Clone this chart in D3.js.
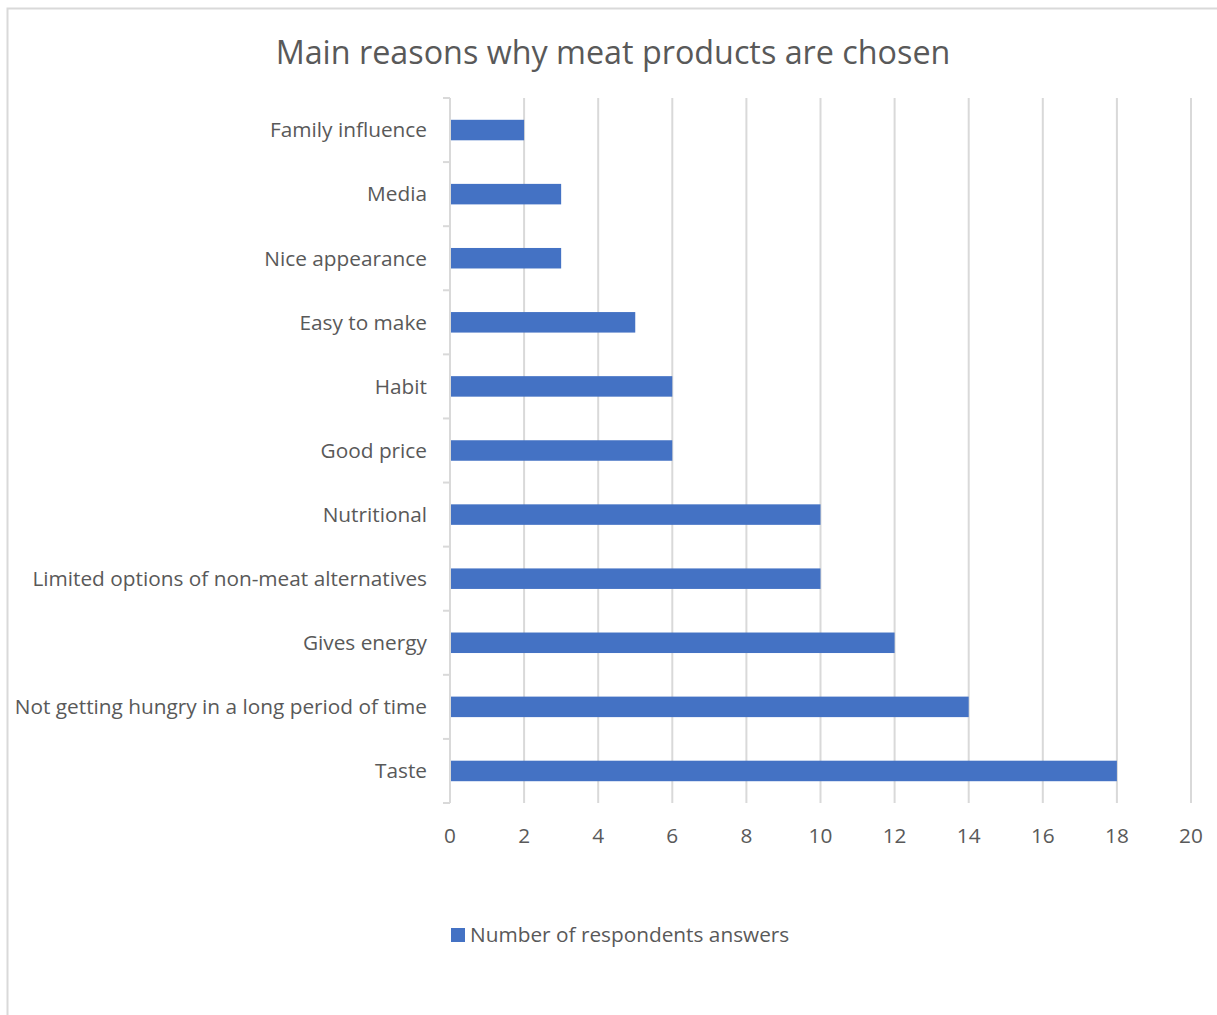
<!DOCTYPE html>
<html>
<head>
<meta charset="utf-8">
<script src="https://cdn.jsdelivr.net/npm/d3@7"></script>
<style>
  html, body { margin: 0; padding: 0; background: #ffffff; }
  svg { display: block; }
  text { font-family: "Open Sans", Lato, sans-serif; fill: #595959; }
</style>
</head>
<body>
<svg id="chart" width="1217" height="1015"></svg>
<script>
// Survey answers, listed top to bottom as drawn
const categories = [
  "Family influence",
  "Media",
  "Nice appearance",
  "Easy to make",
  "Habit",
  "Good price",
  "Nutritional",
  "Limited options of non-meat alternatives",
  "Gives energy",
  "Not getting hungry in a long period of time",
  "Taste"
];
const answers = [2, 3, 3, 5, 6, 6, 10, 10, 12, 14, 18];
const xTicks = [0, 2, 4, 6, 8, 10, 12, 14, 16, 18, 20];
const seriesName = "Number of respondents answers";
const chartTitle = "Main reasons why meat products are chosen";

const svg = d3.select("#chart");
const barColor = "#4472c4";
const gridColor = "#d9d9d9";
const labelSize = "20.8px";

// Outer chart frame
svg.append("rect")
  .attr("x", 7.5).attr("y", 8.5)
  .attr("width", 1240).attr("height", 1040)
  .attr("fill", "none").attr("stroke", gridColor).attr("stroke-width", 2);

const plot = { left: 450, right: 1191, top: 98, bottom: 803 };

const x = d3.scaleLinear().domain([0, 20]).range([plot.left, plot.right]);
const y = d3.scaleBand().domain(categories).range([plot.top, plot.bottom]).paddingInner(0.68).paddingOuter(0.34);
const yb = d3.scaleBand().domain(categories).range([plot.top, plot.bottom]);

// Title
svg.append("text")
  .attr("x", 613).attr("y", 64)
  .attr("text-anchor", "middle")
  .style("font-size", "32.3px")
  .text(chartTitle);

// Vertical gridlines
svg.append("g").selectAll("line")
  .data(xTicks.filter(d => d > 0))
  .join("line")
  .attr("x1", d => x(d)).attr("x2", d => x(d))
  .attr("y1", plot.top).attr("y2", plot.bottom)
  .attr("stroke", gridColor).attr("stroke-width", 2);

// Bars
svg.append("g").selectAll("rect")
  .data(categories)
  .join("rect")
  .attr("x", x(0))
  .attr("y", d => y(d))
  .attr("width", (d, i) => x(answers[i]) - x(0))
  .attr("height", y.bandwidth())
  .attr("fill", barColor);

// Category axis: line plus ticks at band boundaries
const catAxis = svg.append("g");
catAxis.append("line")
  .attr("x1", plot.left).attr("x2", plot.left)
  .attr("y1", plot.top).attr("y2", plot.bottom)
  .attr("stroke", gridColor).attr("stroke-width", 2);
const bounds = categories.map(c => yb(c)).concat([plot.bottom]);
catAxis.selectAll("line.tick")
  .data(bounds)
  .join("line")
  .attr("class", "tick")
  .attr("x1", plot.left - 7).attr("x2", plot.left)
  .attr("y1", d => d).attr("y2", d => d)
  .attr("stroke", gridColor).attr("stroke-width", 2);
catAxis.selectAll("text")
  .data(categories)
  .join("text")
  .attr("x", plot.left - 23)
  .attr("y", d => yb(d) + yb.bandwidth() / 2)
  .attr("dy", "0.35em")
  .attr("text-anchor", "end")
  .style("font-size", labelSize)
  .text(d => d);

// Value axis labels
svg.append("g").selectAll("text")
  .data(xTicks)
  .join("text")
  .attr("x", d => x(d))
  .attr("y", 843)
  .attr("text-anchor", "middle")
  .style("font-size", labelSize)
  .text(d => d);

// Legend
const legend = svg.append("g");
legend.append("rect")
  .attr("x", 451).attr("y", 928).attr("width", 14).attr("height", 14)
  .attr("fill", barColor);
legend.append("text")
  .attr("x", 470).attr("y", 942)
  .style("font-size", labelSize)
  .text(seriesName);
</script>
</body>
</html>
